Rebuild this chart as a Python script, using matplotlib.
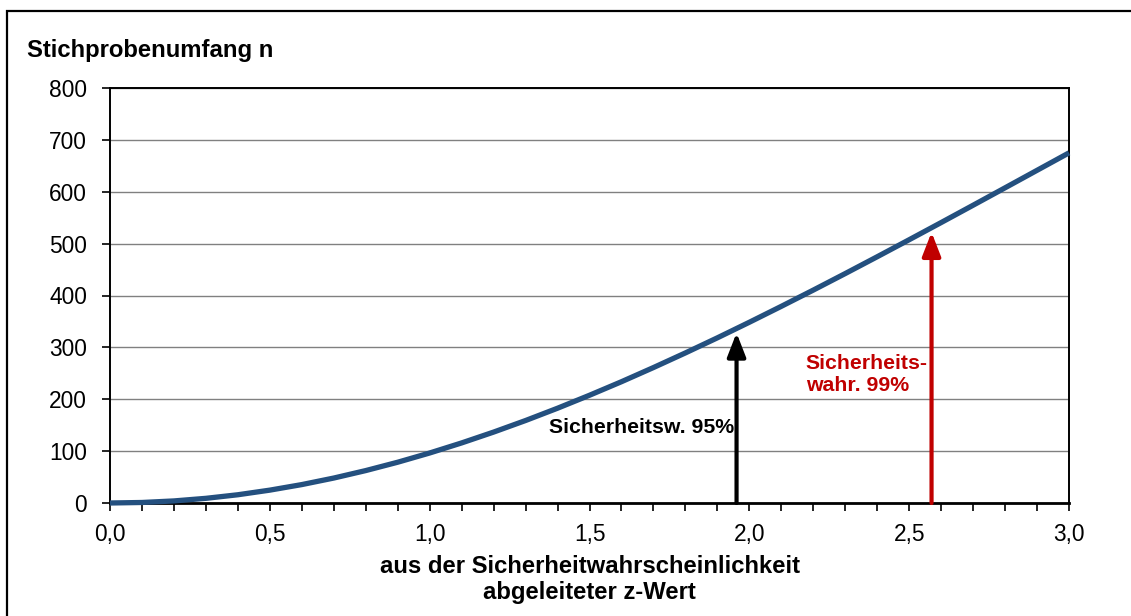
import numpy as np
import matplotlib.pyplot as plt
from matplotlib.patches import Rectangle
from matplotlib.ticker import MultipleLocator

plt.rcParams['font.family'] = ['Liberation Sans', 'DejaVu Sans']

# ---- data ----
z_values = [0.0, 0.1, 0.2, 0.3, 0.4, 0.5, 0.6, 0.7, 0.8, 0.9, 1.0,
            1.1, 1.2, 1.3, 1.4, 1.5, 1.6, 1.7, 1.8, 1.9, 2.0,
            2.1, 2.2, 2.3, 2.4, 2.5, 2.6, 2.7, 2.8, 2.9, 3.0]
n_values = [0.0, 1.0, 4.0, 9.0, 15.9, 24.8, 35.5, 48.1, 62.5, 78.6, 96.4,
            115.8, 136.7, 159.0, 182.7, 207.7, 233.8, 261.1, 289.3, 318.4, 348.4,
            379.1, 410.4, 442.3, 474.7, 507.5, 540.6, 574.0, 607.6, 641.3, 675.0]

arrow_z = [1.96, 2.57]
arrow_top = [328, 522]
arrow_colors = ['black', '#C00000']

x_ticks = [0.0, 0.5, 1.0, 1.5, 2.0, 2.5, 3.0]
x_tick_labels = ['0,0', '0,5', '1,0', '1,5', '2,0', '2,5', '3,0']
y_ticks = [0, 100, 200, 300, 400, 500, 600, 700, 800]

TICK_FS = 16.4
LABEL_FS = 17.2
NOTE_FS = 15.3

fig = plt.figure(figsize=(11.31, 6.16), dpi=100)
ax = fig.add_axes([110 / 1131, 113 / 616, 959 / 1131, 415 / 616])

# outer chart frame (runs off the right / bottom edge)
fig.patches.append(Rectangle((7 / 1131, -0.1), 1.2, (605 / 616) + 0.1,
                             transform=fig.transFigure, fill=False,
                             edgecolor='black', linewidth=1.6))

ax.plot(z_values, n_values, color='#24507F', linewidth=3.8,
        solid_capstyle='butt', clip_on=False, zorder=3)

for z, top, c in zip(arrow_z, arrow_top, arrow_colors):
    ax.annotate('', xy=(z, top), xytext=(z, 0),
                arrowprops=dict(arrowstyle='-|>,head_length=0.9,head_width=0.35',
                                color=c, lw=3, shrinkA=0, shrinkB=0,
                                mutation_scale=16),
                zorder=4)

ax.text(1.952, 145, 'Sicherheitsw. 95%', ha='right', va='center',
        fontsize=NOTE_FS, fontweight='bold', color='black')
ax.text(2.177, 247, 'Sicherheits-\nwahr. 99%', ha='left', va='center',
        fontsize=NOTE_FS, fontweight='bold', color='#C00000', linespacing=1.2)

ax.set_xlim(0, 3)
ax.set_ylim(0, 800)
ax.set_xticks(x_ticks)
ax.set_xticklabels(x_tick_labels)
ax.xaxis.set_minor_locator(MultipleLocator(0.1))
ax.set_yticks(y_ticks)
ax.tick_params(axis='both', which='both', direction='out', length=6,
               width=1.2, labelsize=TICK_FS)
ax.tick_params(axis='x', pad=8.5)
ax.tick_params(axis='y', pad=10.5)
ax.grid(axis='y', color='#808080', linewidth=1.0)
ax.set_axisbelow(True)
for s in ax.spines.values():
    s.set_linewidth(1.4)
ax.spines['bottom'].set_linewidth(2.0)

ax.set_xlabel('aus der Sicherheitwahrscheinlichkeit\nabgeleiteter z-Wert',
              fontsize=LABEL_FS, fontweight='bold', labelpad=6.5, linespacing=1.13)
fig.text(27 / 1131, 1 - 57.5 / 616, 'Stichprobenumfang n', ha='left', va='baseline',
         fontsize=LABEL_FS, fontweight='bold')

fig.savefig('out.png', dpi=100)
